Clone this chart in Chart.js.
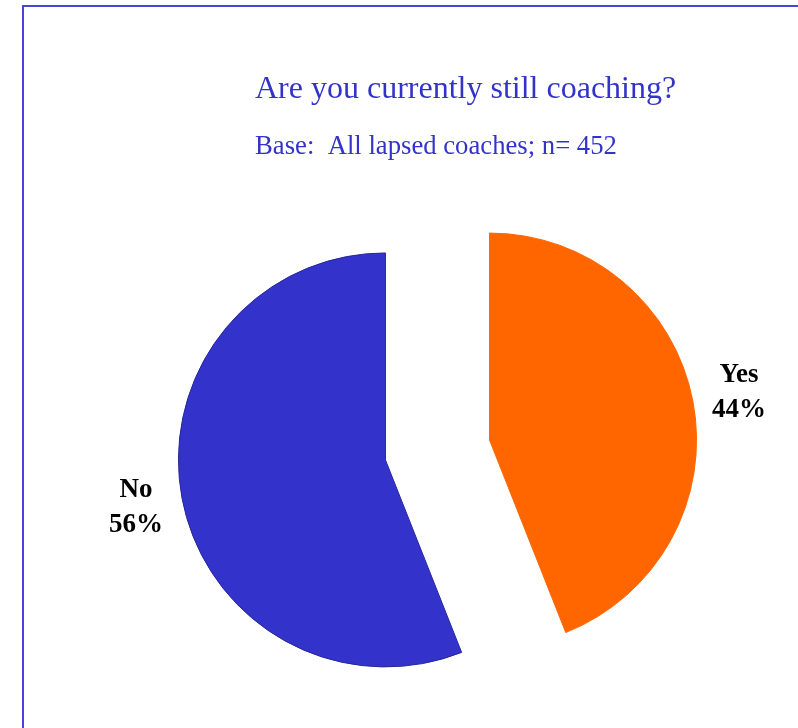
<!DOCTYPE html>
<html>
<head>
<meta charset="utf-8">
<script src="https://cdn.jsdelivr.net/npm/chart.js@4/dist/chart.umd.min.js"></script>
<style>
  html, body { margin: 0; padding: 0; background: #ffffff; }
  #wrap { position: relative; width: 798px; height: 728px; }
</style>
</head>
<body>
<div id="wrap"><canvas id="chart" width="798" height="728"></canvas></div>
<script>
// Survey answers and their shares (%)
const categories = ['Yes', 'No'];
const shares = [44, 56];
const sliceColors = ['#FF6600', '#3333CC'];
const sliceEdges = ['#FF6600', '#26269A'];
const titleText = 'Are you currently still coaching?';
const subtitleText = 'Base:  All lapsed coaches; n= 452';

const EXPLODE = 53;     // how far each slice is pulled out from the centre
const LABEL_GAP = 47;   // gap between rim and its label

// Frame line and heading text drawn on the canvas
const frameAndHeadings = {
  id: 'frameAndHeadings',
  beforeDraw(chart) {
    const ctx = chart.ctx;
    ctx.save();
    ctx.fillStyle = '#ffffff';
    ctx.fillRect(0, 0, chart.width, chart.height);
    ctx.strokeStyle = '#4646DC';
    ctx.lineWidth = 2;
    ctx.beginPath();
    ctx.moveTo(chart.width + 2, 6);
    ctx.lineTo(23, 6);
    ctx.lineTo(23, chart.height + 2);
    ctx.stroke();
    ctx.fillStyle = '#3333CC';
    ctx.textAlign = 'left';
    ctx.textBaseline = 'alphabetic';
    ctx.font = '32px "Liberation Serif", "Times New Roman", serif';
    ctx.fillText(titleText, 255, 98);
    ctx.font = '26.7px "Liberation Serif", "Times New Roman", serif';
    ctx.fillText(subtitleText, 255, 154);
    ctx.restore();
  }
};

// Each arc is drawn by the library, shifted out along its own mid-angle
const explodeSlices = {
  id: 'explodeSlices',
  beforeDatasetDraw(chart, args) {
    const ctx = chart.ctx;
    args.meta.data.forEach((arc) => {
      const p = arc.getProps(['startAngle', 'endAngle']);
      const mid = (p.startAngle + p.endAngle) / 2;
      ctx.save();
      ctx.translate(Math.cos(mid) * EXPLODE, Math.sin(mid) * EXPLODE);
      arc.draw(ctx, chart.chartArea);
      ctx.restore();
    });
    return false;
  }
};

// Category name and percentage placed outside each slice
const sliceLabels = {
  id: 'sliceLabels',
  afterDatasetsDraw(chart) {
    const ctx = chart.ctx;
    const meta = chart.getDatasetMeta(0);
    ctx.save();
    ctx.fillStyle = '#000000';
    ctx.textAlign = 'center';
    ctx.textBaseline = 'middle';
    ctx.font = 'bold 27px "Liberation Serif", "Times New Roman", serif';
    meta.data.forEach((arc, i) => {
      const p = arc.getProps(['x', 'y', 'startAngle', 'endAngle', 'outerRadius']);
      const mid = (p.startAngle + p.endAngle) / 2;
      const dist = EXPLODE + p.outerRadius + LABEL_GAP;
      const cx = p.x + Math.cos(mid) * dist;
      const cy = p.y + Math.sin(mid) * dist;
      ctx.fillText(categories[i], cx, cy - 17);
      ctx.fillText(shares[i] + '%', cx, cy + 18);
    });
    ctx.restore();
  }
};

new Chart(document.getElementById('chart'), {
  type: 'pie',
  data: {
    labels: categories,
    datasets: [{
      data: shares,
      backgroundColor: sliceColors,
      borderColor: sliceEdges,
      borderWidth: 1,
      radius: 207,
      hoverOffset: 0
    }]
  },
  options: {
    responsive: false,
    animation: false,
    events: [],
    layout: { padding: { left: 77, right: 0, top: 172, bottom: 0 } },
    plugins: {
      legend: { display: false },
      title: { display: false },
      tooltip: { enabled: false }
    }
  },
  plugins: [frameAndHeadings, explodeSlices, sliceLabels]
});
</script>
</body>
</html>
